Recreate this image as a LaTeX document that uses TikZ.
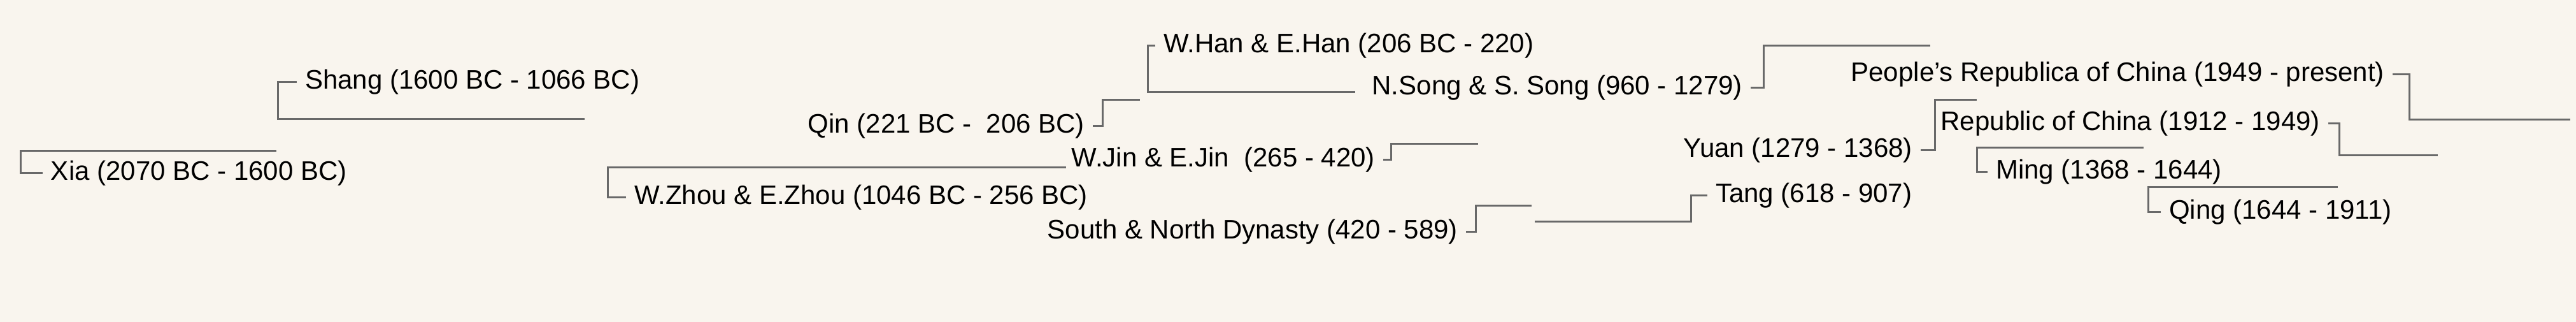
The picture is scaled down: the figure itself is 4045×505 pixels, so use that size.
\documentclass[tikz,border=0pt]{standalone}
\usepackage{fontspec}
\setmainfont{Liberation Sans}
\usepackage{xcolor}
\definecolor{mybg}{RGB}{249,245,238}
\definecolor{mygray}{RGB}{105,105,105}

\begin{document}
\begin{tikzpicture}[x=0.2pt,y=-0.2pt,
  dnode/.style={inner xsep=2.4pt,inner ysep=0pt,font=\fontsize{8.4}{10}\selectfont},
  link/.style={draw=mygray,line width=0.6pt}]
\fill[mybg] (0,0) rectangle (4045,505);
\useasboundingbox (0,0) rectangle (4045,505);
% free ends of the elbows
\coordinate (xia-end)   at (434,237);
\coordinate (shang-end) at (918,187);
\coordinate (zhou-end)  at (1674,263);
\coordinate (qin-end)   at (1790,157);
\coordinate (han-end)   at (2128,145);
\coordinate (jin-end)   at (2321,226);
\coordinate (sn-end)    at (2405,323);
\coordinate (tang-end)  at (2410,348);
\coordinate (song-end)  at (3031,72);
\coordinate (yuan-end)  at (3104,157);
\coordinate (ming-end)  at (3366,232);
\coordinate (qing-end)  at (3671,294);
\coordinate (roc-end)   at (3828,244);
\coordinate (prc-end)   at (4036,188);
% dynasties
\node[dnode,anchor=west] (xia)   at (67,272)   {Xia (2070 BC - 1600 BC)};
\node[dnode,anchor=west] (shang) at (466,129)  {Shang (1600 BC - 1066 BC)};
\node[dnode,anchor=west] (zhou)  at (983,310)  {W.Zhou \& E.Zhou (1046 BC - 256 BC)};
\node[dnode,anchor=east] (qin)   at (1716,198) {Qin (221 BC -\ \ 206 BC)};
\node[dnode,anchor=west] (han)   at (1814,72)  {W.Han \& E.Han (206 BC - 220)};
\node[dnode,anchor=east] (jin)   at (2172,251) {W.Jin \& E.Jin\ \ (265 - 420)};
\node[dnode,anchor=east] (sn)    at (2302,364) {South \& North Dynasty (420 - 589)};
\node[dnode,anchor=west] (tang)  at (2681,307) {Tang (618 - 907)};
\node[dnode,anchor=east] (song)  at (2749,138) {N.Song \& S. Song (960 - 1279)};
\node[dnode,anchor=east] (yuan)  at (3016,236) {Yuan (1279 - 1368)};
\node[dnode,anchor=west] (ming)  at (3121,270) {Ming (1368 - 1644)};
\node[dnode,anchor=west] (qing)  at (3393,333) {Qing (1644 - 1911)};
\node[dnode,anchor=east] (roc)   at (3656,194) {Republic of China (1912 - 1949)};
\node[dnode,anchor=east] (prc)   at (3757,117) {People’s Republica of China (1949 - present)};
% elbows
\draw[link] (xia.west)   -- ++(-35,0) |- (xia-end);
\draw[link] (shang.west) -- ++(-30,0) |- (shang-end);
\draw[link] (zhou.west)  -- ++(-29,0) |- (zhou-end);
\draw[link] (qin.east)   -- ++(15,0)  |- (qin-end);
\draw[link] (han.west)   -- ++(-12,0) |- (han-end);
\draw[link] (jin.east)   -- ++(12,0)  |- (jin-end);
\draw[link] (sn.east)    -- ++(15,0)  |- (sn-end);
\draw[link] (tang.west)  -- ++(-26,0) |- (tang-end);
\draw[link] (song.east)  -- ++(20,0)  |- (song-end);
\draw[link] (yuan.east)  -- ++(22,0)  |- (yuan-end);
\draw[link] (ming.west)  -- ++(-17,0) |- (ming-end);
\draw[link] (qing.west)  -- ++(-20,0) |- (qing-end);
\draw[link] (roc.east)   -- ++(17,0)  |- (roc-end);
\draw[link] (prc.east)   -- ++(26,0)  |- (prc-end);
\end{tikzpicture}
\end{document}
